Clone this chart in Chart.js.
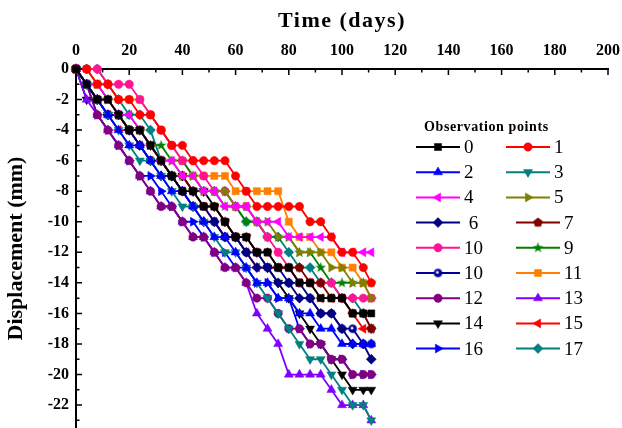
<!DOCTYPE html>
<html>
<head>
<meta charset="utf-8">
<script src="https://cdn.jsdelivr.net/npm/chart.js@4.4.1/dist/chart.umd.min.js"></script>
<style>
  html, body { margin: 0; padding: 0; background: #fff; }
  #wrap { width: 622px; height: 428px; }
</style>
</head>
<body>
<div id="wrap"><canvas id="chart" width="622" height="428"></canvas></div>
<script>
// measurement days (common to every observation point)
const days = [0, 4, 8, 12, 16, 20, 24, 28, 32, 36, 40, 44, 48, 52, 56, 60, 64, 68, 72, 76, 80, 84, 88, 92, 96, 100, 104, 108, 111];
const xTicks = [0, 20, 40, 60, 80, 100, 120, 140, 160, 180, 200];
const yTicks = [0, -2, -4, -6, -8, -10, -12, -14, -16, -18, -20, -22];

// displacement (mm) per observation point
const p0   = [0, -1, -2, -2, -3, -4, -4, -5, -6, -7, -8, -8, -9, -9, -10, -11, -11, -12, -12, -13, -13, -14, -14, -15, -15, -15, -16, -16, -16];
const p1   = [0, 0, -1, -1, -2, -2, -3, -3, -4, -5, -5, -6, -6, -6, -6, -7, -8, -9, -9, -9, -9, -9, -10, -10, -11, -12, -12, -13, -14];
const p2   = [0, -1, -2, -3, -4, -5, -5, -6, -7, -8, -8, -9, -10, -11, -11, -12, -13, -14, -14, -15, -15, -16, -16, -17, -17, -18, -18, -18, -18];
const p3   = [0, -1, -2, -3, -4, -5, -6, -6, -7, -8, -9, -9, -10, -11, -12, -12, -13, -14, -15, -16, -17, -18, -19, -19, -20, -21, -22, -22, -23];
const p4   = [0, -1, -1, -2, -3, -3, -4, -5, -6, -6, -7, -7, -8, -8, -9, -9, -9, -10, -10, -10, -11, -11, -11, -11, -11, -12, -12, -12, -12];
const p5   = [0, -1, -1, -2, -3, -4, -4, -5, -6, -6, -7, -7, -8, -8, -8, -9, -9, -10, -10, -11, -11, -12, -12, -12, -13, -13, -14, -14, -15];
const p6   = [0, -1, -2, -3, -3, -4, -5, -6, -7, -7, -8, -9, -10, -10, -11, -11, -12, -13, -13, -14, -14, -15, -15, -16, -16, -17, -18, -18, -19];
const p7   = [0, -1, -2, -2, -3, -4, -4, -5, -6, -7, -7, -8, -9, -9, -10, -11, -11, -12, -12, -13, -13, -13, -14, -14, -15, -15, -16, -16, -17];
const p10a = [0, 0, 0, -1, -1, -1, -2, -3, -4, -5, -6, -6, -7, -8, -8, -9, -9, -10, -11, -12, -13, -14, -14, -14, -14, -15, -15, -15, -15];
const p9   = [0, -1, -1, -2, -3, -3, -4, -5, -5, -6, -6, -7, -8, -8, -9, -9, -10, -10, -11, -11, -11, -12, -12, -13, -14, -14, -14, -14, -14];
const p10b = [0, -1, -2, -3, -3, -4, -5, -6, -6, -7, -8, -9, -9, -10, -11, -11, -12, -12, -13, -13, -14, -14, -15, -16, -16, -17, -17, -18, -18];
const p11  = [0, 0, -1, -1, -2, -2, -2, -3, -4, -5, -6, -7, -7, -7, -7, -8, -8, -8, -8, -8, -10, -11, -11, -12, -12, -13, -13, -14, -15];
const p12  = [0, -1, -3, -4, -5, -6, -7, -8, -9, -9, -10, -11, -11, -12, -13, -13, -14, -15, -15, -16, -17, -17, -18, -18, -19, -19, -20, -20, -20];
const p13  = [0, -2, -3, -4, -5, -6, -7, -8, -9, -9, -10, -11, -11, -12, -13, -13, -14, -16, -17, -18, -20, -20, -20, -20, -21, -22, -22, -22, -23];
const p14  = [0, -2, -2, -3, -3, -4, -4, -5, -6, -7, -7, -8, -8, -9, -10, -11, -11, -12, -13, -14, -15, -16, -17, -18, -19, -20, -21, -21, -21];
const p15  = [0, -1, -2, -3, -4, -4, -5, -6, -6, -7, -8, -9, -9, -10, -11, -11, -12, -13, -13, -13, -13, -14, -14, -15, -15, -15, -16, -17, -17];
const p16  = [0, -1, -3, -4, -5, -6, -7, -7, -8, -9, -10, -10, -11, -12, -12, -13, -13, -14, -14, -15, -15, -17, -18, -18, -19, -19, -20, -20, -20];
const p17  = [0, 0, 0, -1, -2, -3, -3, -4, -6, -7, -7, -8, -8, -8, -8, -9, -10, -10, -11, -11, -12, -13, -13, -14, -14, -15, -15, -16, -17];

const SERIF = "'Liberation Serif', 'Times New Roman', serif";

// markers chart.js doesn't have (filled pentagon, filled star, shaded ball)
function makeMarker(kind, color) {
    const c = document.createElement('canvas');
    c.width = 11; c.height = 11;
    const g = c.getContext('2d');
    const cx = 5.5, cy = 5.5;
    g.fillStyle = color;
    g.beginPath();
    if (kind === 'pentagon') {
        for (let i = 0; i < 5; i++) {
            const a = -Math.PI / 2 + i * 2 * Math.PI / 5;
            g.lineTo(cx + 5 * Math.cos(a), cy + 5 * Math.sin(a));
        }
    } else if (kind === 'star') {
        for (let i = 0; i < 10; i++) {
            const a = -Math.PI / 2 + i * Math.PI / 5;
            const r = i % 2 ? 2.3 : 5.5;
            g.lineTo(cx + r * Math.cos(a), cy + r * Math.sin(a));
        }
    } else {
        g.arc(cx, cy, 4.3, 0, Math.PI * 2);
    }
    g.closePath();
    g.fill();
    if (kind === 'ball') {
        g.fillStyle = '#ffffff';
        g.beginPath();
        g.arc(cx - 0.6, cy - 0.6, 1.4, 0, Math.PI * 2);
        g.fill();
    }
    return c;
}

const series = [
    { label: '0',  data: p0,   color: '#000000', style: 'rect', radius: 5 },
    { label: '1',  data: p1,   color: '#ff0000', style: 'circle', radius: 4.2 },
    { label: '2',  data: p2,   color: '#0000ff', style: 'triangle', radius: 5.2 },
    { label: '3',  data: p3,   color: '#008080', style: 'triangle', radius: 5.2, rot: 180 },
    { label: '4',  data: p4,   color: '#ff00ff', style: 'triangle', radius: 5.2, rot: 270 },
    { label: '5',  data: p5,   color: '#808000', style: 'triangle', radius: 5.2, rot: 90 },
    { label: ' 6', data: p6,   color: '#000080', style: 'rectRot', radius: 5 },
    { label: '7',  data: p7,   color: '#800000', style: makeMarker('pentagon', '#800000') },
    { label: '10', data: p10a, color: '#ff1493', style: 'circle', radius: 4.2 },
    { label: '9',  data: p9,   color: '#008000', style: makeMarker('star', '#008000') },
    { label: '10', data: p10b, color: '#000099', style: makeMarker('ball', '#000099') },
    { label: '11', data: p11,  color: '#ff8000', style: 'rect', radius: 5 },
    { label: '12', data: p12,  color: '#800080', style: 'circle', radius: 4.2 },
    { label: '13', data: p13,  color: '#8000ff', style: 'triangle', radius: 5.2 },
    { label: '14', data: p14,  color: '#000000', style: 'triangle', radius: 5.2, rot: 180 },
    { label: '15', data: p15,  color: '#ff0000', style: 'triangle', radius: 5.2, rot: 270 },
    { label: '16', data: p16,  color: '#0000ff', style: 'triangle', radius: 5.2, rot: 90 },
    { label: '17', data: p17,  color: '#008080', style: 'rectRot', radius: 5 }
];

const datasets = series.map(s => ({
    label: s.label,
    data: days.map((d, i) => ({ x: d, y: s.data[i] })),
    borderColor: s.color,
    backgroundColor: s.color,
    borderWidth: 1.8,
    pointStyle: s.style,
    pointRadius: s.radius || 4,
    pointRotation: s.rot || 0,
    pointBorderWidth: 0.5,
    pointBackgroundColor: s.color,
    pointBorderColor: s.color,
    tension: 0,
    clip: false
}));

// inward tick marks, top title, legend
const decorations = {
    id: 'decorations',
    afterDraw(chart) {
        const ctx = chart.ctx;
        const xs = chart.scales.x, ys = chart.scales.y;
        const area = chart.chartArea;
        ctx.save();
        ctx.strokeStyle = '#000';
        ctx.lineWidth = 1.5;
        ctx.beginPath();
        xTicks.forEach((v, i) => {
            const px = xs.getPixelForValue(v);
            ctx.moveTo(px, area.top); ctx.lineTo(px, area.top + 6);
            if (i < xTicks.length - 1) {
                const mx = xs.getPixelForValue((v + xTicks[i + 1]) / 2);
                ctx.moveTo(mx, area.top); ctx.lineTo(mx, area.top + 3.5);
            }
        });
        yTicks.forEach((v, i) => {
            const py = ys.getPixelForValue(v);
            ctx.moveTo(area.left, py); ctx.lineTo(area.left + 6, py);
            const mid = i < yTicks.length - 1 ? (v + yTicks[i + 1]) / 2 : v - 1;
            const my = ys.getPixelForValue(mid);
            ctx.moveTo(area.left, my); ctx.lineTo(area.left + 3.5, my);
        });
        ctx.stroke();

        // x axis title, letter spaced
        ctx.fillStyle = '#000';
        ctx.font = 'bold 22px ' + SERIF;
        ctx.textAlign = 'center';
        ctx.textBaseline = 'middle';
        ctx.letterSpacing = '1.5px';
        ctx.fillText('Time (days)', (area.left + area.right) / 2, 21);
        ctx.letterSpacing = '0px';

        // legend
        ctx.font = 'bold 14px ' + SERIF;
        ctx.textAlign = 'left';
        ctx.letterSpacing = '0.6px';
        ctx.fillText('Observation points', 424, 127);
        ctx.letterSpacing = '0px';
        ctx.font = '19px ' + SERIF;
        chart.data.datasets.forEach((ds, i) => {
            const row = Math.floor(i / 2), col = i % 2;
            const y = 147 + row * 25.2;
            const x0 = col === 0 ? 416 : (row < 3 ? 506 : 516);
            const x1 = x0 + 44;
            ctx.strokeStyle = ds.borderColor;
            ctx.lineWidth = 2;
            ctx.beginPath();
            ctx.moveTo(x0, y); ctx.lineTo(x1, y);
            ctx.stroke();
            ctx.fillStyle = ds.borderColor;
            ctx.lineWidth = 0.5;
            Chart.helpers.drawPoint(ctx, {
                pointStyle: ds.pointStyle,
                radius: ds.pointRadius,
                rotation: ds.pointRotation,
                borderWidth: 0.5
            }, (x0 + x1) / 2, y);
            ctx.fillStyle = '#000';
            ctx.textBaseline = 'middle';
            ctx.fillText(ds.label, x1 + 4, y + 1);
        });
        ctx.restore();
    }
};

new Chart(document.getElementById('chart'), {
    type: 'line',
    data: { datasets },
    options: {
        responsive: false,
        animation: false,
        layout: { autoPadding: false, padding: { left: 0, right: 14, top: 0, bottom: 0 } },
        plugins: { legend: { display: false }, tooltip: { enabled: false } },
        scales: {
            x: {
                type: 'linear',
                position: 'top',
                min: 0, max: 200,
                afterBuildTicks: s => { s.ticks = xTicks.map(v => ({ value: v })); },
                afterFit: s => { s.height = 69; s.paddingLeft = 0; s.paddingRight = 0; },
                grid: { display: false, drawTicks: false },
                border: { display: true, color: '#000', width: 2 },
                ticks: { color: '#000', padding: 9, maxRotation: 0, font: { family: SERIF, size: 16, weight: 'bold' } }
            },
            y: {
                type: 'linear',
                min: -23.5, max: 0,
                afterBuildTicks: s => { s.ticks = yTicks.map(v => ({ value: v })); },
                afterFit: s => { s.width = 76; s.paddingTop = 0; s.paddingBottom = 0; },
                grid: { display: false, drawTicks: false },
                border: { display: true, color: '#000', width: 2 },
                ticks: { color: '#000', padding: 7, font: { family: SERIF, size: 16, weight: 'bold' } },
                title: {
                    display: true,
                    text: 'Displacement (mm)',
                    color: '#000',
                    padding: { top: 3, bottom: 0 },
                    font: { family: SERIF, size: 22, weight: 'bold' }
                }
            }
        }
    },
    plugins: [decorations]
});
</script>
</body>
</html>
